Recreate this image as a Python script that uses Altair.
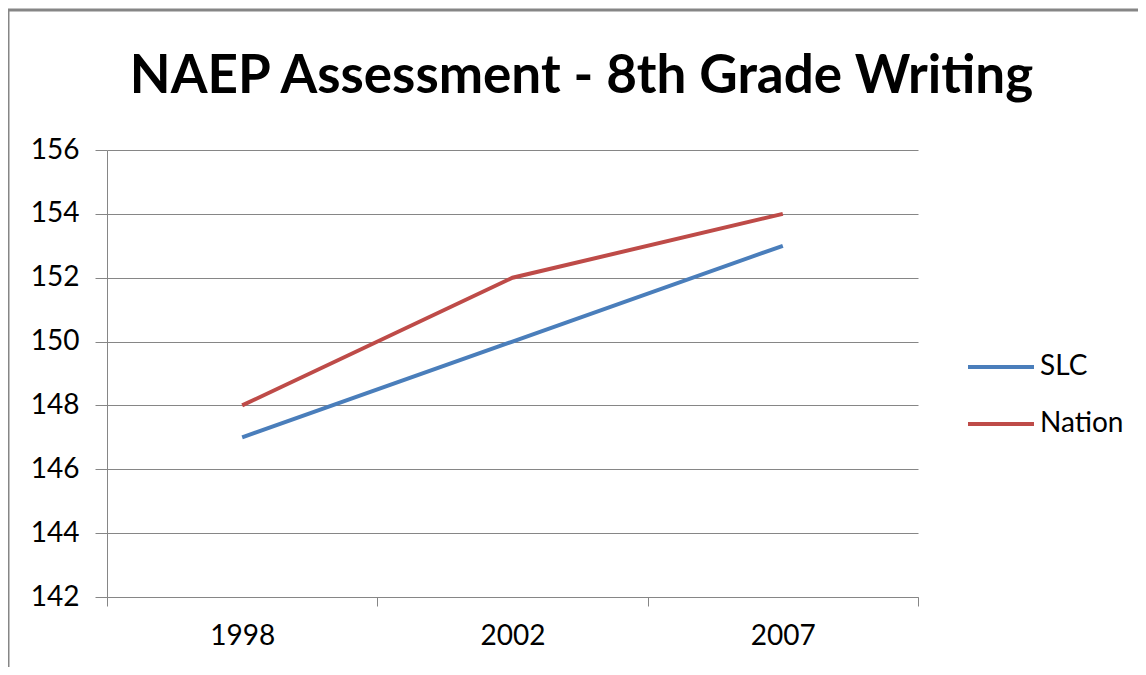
import altair as alt
import pandas as pd

years = ["1998", "2002", "2007"]
slc = [147, 150, 153]
nation = [148, 152, 154]
series = ["SLC", "Nation"]
colors = ["#4A7EBB", "#BE4B48"]
y_ticks = [142, 144, 146, 148, 150, 152, 154, 156]

rows = []
for i, y in enumerate(years):
    rows.append({"year": y, "series": "SLC", "value": slc[i]})
    rows.append({"year": y, "series": "Nation", "value": nation[i]})
df = pd.DataFrame(rows)

FONT = "Lato"
GRAY = "#868686"

lines = alt.Chart(df).mark_line(strokeWidth=4).encode(
    x=alt.X("year:N", sort=years, bandPosition=0.5,
            scale=alt.Scale(type="band", paddingInner=0, paddingOuter=0),
            axis=alt.Axis(title=None, tickBand="extent", grid=False, labelAngle=0,
                          tickSize=9, tickColor=GRAY, domainColor=GRAY,
                          labelFontSize=28, labelFont=FONT, labelColor="#000000",
                          labelPadding=16)),
    y=alt.Y("value:Q", scale=alt.Scale(domain=[142, 156], nice=False, zero=False),
            axis=alt.Axis(title=None, values=y_ticks, grid=True, gridColor=GRAY,
                          tickSize=12, tickColor=GRAY, domainColor=GRAY,
                          labelFontSize=28, labelFont=FONT, labelColor="#000000",
                          labelPadding=16)),
    color=alt.Color("series:N", sort=series,
                    scale=alt.Scale(domain=series, range=colors),
                    legend=alt.Legend(title=None, orient="none", legendX=859, legendY=182,
                                      symbolType="stroke", symbolSize=4356,
                                      symbolStrokeWidth=4, labelFontSize=28,
                                      labelFont=FONT, labelColor="#000000",
                                      labelOffset=4, rowPadding=8)),
)

border = alt.Chart(pd.DataFrame({"a": [0]})).mark_rect(
    fill=None, stroke=GRAY, strokeWidth=3, clip=False
).encode(x=alt.value(-99), x2=alt.value(1100), y=alt.value(-140), y2=alt.value(600))

chart = alt.layer(border, lines).properties(
    width=811, height=447,
    title=alt.TitleParams("NAEP Assessment - 8th Grade Writing", font=FONT,
                          fontSize=53, fontWeight="bold", color="#000000",
                          anchor="middle", dx=69, offset=-95),
    autosize=alt.AutoSizeParams(type="none"),
    padding={"left": 99, "top": 142, "right": 220, "bottom": 70},
).configure_view(stroke=None)

chart.save("out.html", embed_options={"renderer": "svg", "actions": False})
